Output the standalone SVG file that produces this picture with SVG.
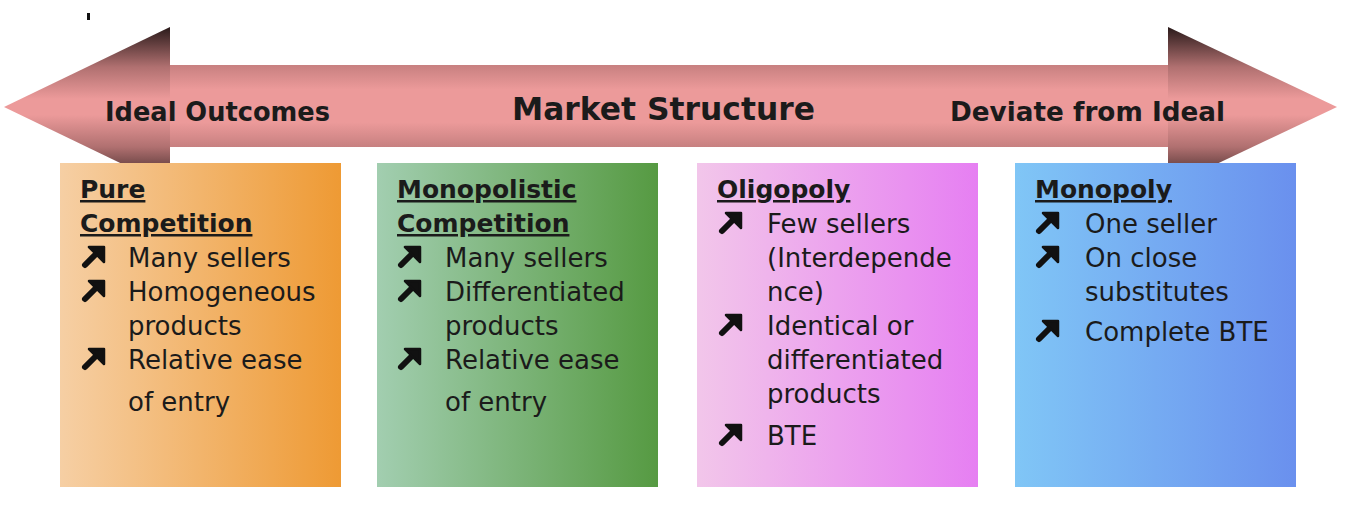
<svg xmlns="http://www.w3.org/2000/svg" xmlns:xlink="http://www.w3.org/1999/xlink" width="1346" height="512" viewBox="0 0 1346 512">
<defs>
<linearGradient id="gShaft" x1="0" y1="65" x2="0" y2="147" gradientUnits="userSpaceOnUse">
<stop offset="0" stop-color="#c78080"/><stop offset="0.3" stop-color="#ec9a9a"/><stop offset="0.7" stop-color="#ec9a9a"/><stop offset="1" stop-color="#c78080"/>
</linearGradient>
<linearGradient id="gHead" x1="0" y1="27" x2="0" y2="187" gradientUnits="userSpaceOnUse">
<stop offset="0" stop-color="#2a1a1a"/><stop offset="0.25" stop-color="#b07070"/><stop offset="0.45" stop-color="#ec9a9a"/><stop offset="0.55" stop-color="#ec9a9a"/><stop offset="0.75" stop-color="#b07070"/><stop offset="1" stop-color="#2a1a1a"/>
</linearGradient>
<linearGradient id="g1" x1="0" y1="0" x2="1" y2="0"><stop offset="0" stop-color="#f6cfa4"/><stop offset="1" stop-color="#ee9a34"/></linearGradient>
<linearGradient id="g2" x1="0" y1="0" x2="1" y2="0"><stop offset="0" stop-color="#a2ceb0"/><stop offset="1" stop-color="#569a42"/></linearGradient>
<linearGradient id="g3" x1="0" y1="0" x2="1" y2="0"><stop offset="0" stop-color="#f2c6ea"/><stop offset="1" stop-color="#e67ff2"/></linearGradient>
<linearGradient id="g4" x1="0" y1="0" x2="1" y2="0"><stop offset="0" stop-color="#80c6f6"/><stop offset="1" stop-color="#6a90ee"/></linearGradient>
<g id="bul">
<path d="M-9,8 L2,-3" stroke="#111" stroke-width="6" stroke-linecap="round"/>
<path d="M-5,-10 L10,-10 L10,5 Z" fill="#111" stroke="#111" stroke-width="2.5" stroke-linejoin="round"/>
</g>
<style>
text{font-family:"DejaVu Sans","Liberation Sans",sans-serif;fill:#1b1b1b}
.lbl{font-weight:bold;font-size:26px}
.title{font-weight:bold;font-size:25px;text-decoration:underline}
.body{font-size:26px}
</style>
</defs>
<rect x="87" y="13" width="3" height="7" fill="#111"/>
<g id="arrow">
<rect x="169" y="65" width="1000" height="82" fill="url(#gShaft)"/>
<path d="M4,107 L170,27 L170,187 Z" fill="url(#gHead)"/>
<path d="M1337,107 L1168,27 L1168,187 Z" fill="url(#gHead)"/>
<text class="lbl" x="105" y="121" textLength="225" lengthAdjust="spacingAndGlyphs">Ideal Outcomes</text>
<text class="lbl" x="512" y="120" style="font-size:32px" textLength="303" lengthAdjust="spacingAndGlyphs">Market Structure</text>
<text class="lbl" x="950" y="121" textLength="275" lengthAdjust="spacingAndGlyphs">Deviate from Ideal</text>
</g>
<g id="connectors"></g>
<g id="pure">
<rect x="60" y="163" width="281" height="324" fill="url(#g1)"/>
<text class="title" x="80" y="198">Pure</text>
<text class="title" x="80" y="232">Competition</text>
<use xlink:href="#bul" x="94" y="257"/>
<text class="body" x="128" y="267">Many sellers</text>
<use xlink:href="#bul" x="94" y="291"/>
<text class="body" x="128" y="301">Homogeneous</text>
<text class="body" x="128" y="335">products</text>
<use xlink:href="#bul" x="94" y="359"/>
<text class="body" x="128" y="369">Relative ease</text>
<text class="body" x="128" y="411">of entry</text>
</g>
<g id="monopolistic">
<rect x="377" y="163" width="281" height="324" fill="url(#g2)"/>
<text class="title" x="397" y="198">Monopolistic</text>
<text class="title" x="397" y="232">Competition</text>
<use xlink:href="#bul" x="410" y="257"/>
<text class="body" x="445" y="267">Many sellers</text>
<use xlink:href="#bul" x="410" y="291"/>
<text class="body" x="445" y="301">Differentiated</text>
<text class="body" x="445" y="335">products</text>
<use xlink:href="#bul" x="410" y="359"/>
<text class="body" x="445" y="369">Relative ease</text>
<text class="body" x="445" y="411">of entry</text>
</g>
<g id="oligopoly">
<rect x="697" y="163" width="281" height="324" fill="url(#g3)"/>
<text class="title" x="717" y="198">Oligopoly</text>
<use xlink:href="#bul" x="731" y="223"/>
<text class="body" x="767" y="233">Few sellers</text>
<text class="body" x="767" y="267">(Interdepende</text>
<text class="body" x="767" y="301">nce)</text>
<use xlink:href="#bul" x="731" y="325"/>
<text class="body" x="767" y="335">Identical or</text>
<text class="body" x="767" y="369">differentiated</text>
<text class="body" x="767" y="403">products</text>
<use xlink:href="#bul" x="731" y="435"/>
<text class="body" x="767" y="445">BTE</text>
</g>
<g id="monopoly">
<rect x="1015" y="163" width="281" height="324" fill="url(#g4)"/>
<text class="title" x="1035" y="198">Monopoly</text>
<use xlink:href="#bul" x="1048" y="223"/>
<text class="body" x="1085" y="233">One seller</text>
<use xlink:href="#bul" x="1048" y="257"/>
<text class="body" x="1085" y="267">On close</text>
<text class="body" x="1085" y="301">substitutes</text>
<use xlink:href="#bul" x="1048" y="331"/>
<text class="body" x="1085" y="341">Complete BTE</text>
</g>
</svg>
